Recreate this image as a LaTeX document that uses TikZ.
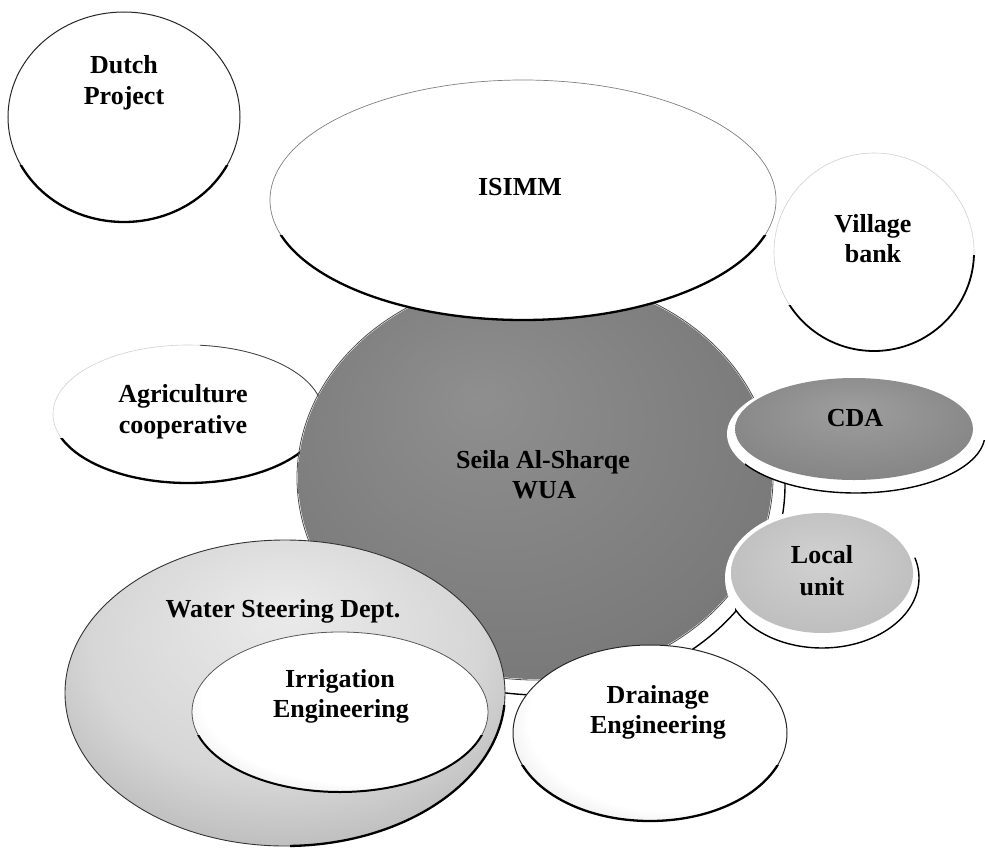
\documentclass[tikz,border=0pt]{standalone}
\usepackage{fontspec}
\setmainfont{Liberation Serif}
\pgfdeclareradialshading{wuaS}{\pgfpoint{-6bp}{10bp}}{color(0bp)=(black!44); color(28bp)=(black!52); color(50bp)=(black!64)}
\pgfdeclareradialshading{cdaS}{\pgfpoint{0bp}{10bp}}{color(0bp)=(black!38); color(30bp)=(black!48); color(50bp)=(black!68)}
\pgfdeclareradialshading{localS}{\pgfpoint{0bp}{6bp}}{color(0bp)=(black!18); color(30bp)=(black!26); color(50bp)=(black!42)}
\pgfdeclareradialshading{waterS}{\pgfpoint{0bp}{14bp}}{color(0bp)=(black!8); color(22bp)=(black!16); color(50bp)=(black!46)}
\pgfdeclareradialshading{irrS}{\pgfpoint{6bp}{8bp}}{color(0bp)=(white); color(26bp)=(white); color(50bp)=(black!32)}
\pgfdeclareradialshading{drainS}{\pgfpoint{8bp}{8bp}}{color(0bp)=(white); color(26bp)=(white); color(50bp)=(black!34)}
\pgfdeclareradialshading{dutchS}{\pgfpoint{-4bp}{14bp}}{color(0bp)=(white); color(34bp)=(white); color(50bp)=(black!26)}
\pgfdeclareradialshading{isimmS}{\pgfpoint{8bp}{12bp}}{color(0bp)=(white); color(38bp)=(white); color(50bp)=(black!22)}
\begin{document}
\begin{tikzpicture}[x=1pt,y=-1pt,
  lbl/.style={font=\bfseries\fontsize{26}{31}\selectfont, anchor=base, inner sep=0pt},
  thinedge/.style={line width=0.8pt, draw=black!75},
  faintedge/.style={line width=0.6pt, draw=black!18},
  thickedge/.style={line width=2.3pt, draw=black},
  rimedge/.style={line width=1.4pt, draw=black}]
\useasboundingbox (0,0) rectangle (988,851);
\fill[white] (0,0) rectangle (988,851);

% Agriculture cooperative
\fill[white] (188,414) ellipse [x radius=135, y radius=69];
\draw[faintedge] (188,414) ellipse [x radius=135, y radius=69];
\begin{scope}\clip (200,330) rectangle (330,400);
  \draw[thinedge] (188,414) ellipse [x radius=135, y radius=69];\end{scope}
\begin{scope}\clip (40,438) rectangle (330,500);
  \draw[thickedge] (188,414) ellipse [x radius=135, y radius=69];\end{scope}

% WUA rim (visible at lower right only) and body
\begin{scope}\clip (460,480) rectangle (800,720);
  \path[fill=white, rimedge] (540,485) ellipse [x radius=245, y radius=210];
\end{scope}
\draw[line width=0.8pt, black!70] (535,478) ellipse [x radius=238, y radius=202];
\path[shading=wuaS] (535,478) ellipse [x radius=237, y radius=201];

% ISIMM
\path[shading=isimmS] (523,200) ellipse [x radius=253, y radius=120];
\draw[line width=0.7pt, black!50] (523,200) ellipse [x radius=253, y radius=120];
\begin{scope}\clip (260,235) rectangle (790,330);
  \draw[thickedge] (523,200) ellipse [x radius=253, y radius=120];\end{scope}

% Dutch Project
\path[shading=dutchS] (124,117) ellipse [x radius=116, y radius=105];
\draw[line width=1pt, black!85] (124,117) ellipse [x radius=116, y radius=105];
\begin{scope}\clip (0,165) rectangle (260,240);
  \draw[thickedge] (124,117) ellipse [x radius=116, y radius=105];\end{scope}

% Village bank
\fill[white] (874,252) ellipse [x radius=100, y radius=99];
\draw[faintedge] (874,252) ellipse [x radius=100, y radius=99];
\begin{scope}\clip (780,305) -- (930,305) -- (930,255) -- (990,255) -- (990,370) -- (780,370) -- cycle;
  \draw[line width=1.8pt, black] (874,252) ellipse [x radius=100, y radius=99];\end{scope}

% CDA
\fill[white] (856,434) ellipse [x radius=129, y radius=59];
\begin{scope}\clip (745,440) rectangle (990,500);
  \draw[rimedge] (856,434) ellipse [x radius=129, y radius=59];\end{scope}
\path[shading=cdaS] (854,429) ellipse [x radius=119, y radius=51];

% Local unit
\fill[white] (822,578) ellipse [x radius=97, y radius=70];
\begin{scope}\clip (735,600) -- (990,540) -- (990,660) -- (735,660) -- cycle;
  \draw[rimedge] (822,578) ellipse [x radius=97, y radius=70];\end{scope}
\path[shading=localS] (822,573) ellipse [x radius=91, y radius=60];

% Drainage Engineering
\path[shading=drainS] (650,733) ellipse [x radius=137, y radius=88];
\draw[line width=1pt, black!85] (650,733) ellipse [x radius=137, y radius=88];
\begin{scope}\clip (500,765) rectangle (800,830);
  \draw[thickedge] (650,733) ellipse [x radius=137, y radius=88];\end{scope}

% Water Steering Dept.
\path[shading=waterS] (285,693) ellipse [x radius=220, y radius=153];
\draw[line width=0.9pt, black!80] (285,693) ellipse [x radius=220, y radius=153];
\begin{scope}\clip (290,705) rectangle (520,851);
  \draw[thickedge] (285,693) ellipse [x radius=220, y radius=153];\end{scope}

% Irrigation Engineering
\path[shading=irrS] (340,712) ellipse [x radius=148, y radius=80];
\draw[line width=0.8pt, black!65] (340,712) ellipse [x radius=148, y radius=80];
\begin{scope}\clip (180,735) rectangle (500,800);
  \draw[line width=2pt, black] (340,712) ellipse [x radius=148, y radius=80];\end{scope}

% Labels
\node[lbl] (dutch1) at (124,74) {Dutch};
\node[lbl] (dutch2) at (124,104) {Project};
\node[lbl] (isimm) at (520,195) {ISIMM};
\node[lbl] (village1) at (873,232) {Village};
\node[lbl] (village2) at (873,262) {bank};
\node[lbl] (agri1) at (183,402) {Agriculture};
\node[lbl] (agri2) at (183,433) {cooperative};
\node[lbl] (wua1) at (543,468) {Seila Al-Sharqe};
\node[lbl] (wua2) at (544,498) {WUA};
\node[lbl] (cda) at (855,426) {CDA};
\node[lbl] (local1) at (822,563) {Local};
\node[lbl] (local2) at (822,595) {unit};
\node[lbl] (drain1) at (658,703) {Drainage};
\node[lbl] (drain2) at (658,733) {Engineering};
\node[lbl] (water) at (283,617) {Water Steering Dept.};
\node[lbl] (irr1) at (340,687) {Irrigation};
\node[lbl] (irr2) at (341,717) {Engineering};
\end{tikzpicture}
\end{document}
